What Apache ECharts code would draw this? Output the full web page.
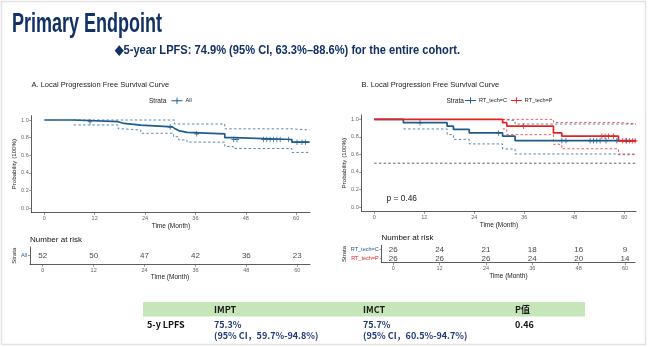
<!DOCTYPE html>
<html><head><meta charset="utf-8">
<script src="https://cdn.jsdelivr.net/npm/echarts@6/dist/echarts.min.js"></script>
<style>html,body{margin:0;padding:0;background:#fff}#c{width:650px;height:347px}</style>
</head><body><div id="c"></div>
<script>
// ---------- data ----------
const timeTicks = [0, 12, 24, 36, 48, 60];
const probTicks = [0, 0.2, 0.4, 0.6, 0.8, 1.0];

// Panel A: all patients
const allTime  = [0, 7, 17.6, 19, 23, 30.5, 31.2, 32, 34, 43, 45, 59, 63.2];
const allSurv  = [1, 0.981, 0.961, 0.942, 0.922, 0.90, 0.88, 0.86, 0.843, 0.80, 0.779, 0.749, 0.749];
const allUpperTime = [7, 31, 43, 59, 63.2];
const allUpper     = [1, 0.955, 0.90, 0.886, 0.886];
const allLowerTime = [7, 17.6, 19, 23, 30.8, 32, 34, 43, 45, 59, 63.2];
const allLower     = [0.944, 0.90, 0.887, 0.85, 0.81, 0.775, 0.75, 0.70, 0.677, 0.633, 0.633];
const allCensorTime = [10.9, 30, 36.3, 45.1, 45.9, 52.2, 53, 53.8, 54.6, 55.4, 56.2, 58.2, 60.2, 61.4, 62.2];
const allCensorSurv = [0.981, 0.922, 0.843, 0.779, 0.779, 0.779, 0.779, 0.779, 0.779, 0.779, 0.779, 0.779, 0.749, 0.749, 0.749];

// Panel B: RT_tech=C
const cTime = [0, 7, 17.5, 19, 22.8, 30.8, 33.8, 62.8];
const cSurv = [1, 0.962, 0.923, 0.885, 0.846, 0.808, 0.757, 0.757];
const cUpperTime = [7, 30.8, 33.8, 62.8];
const cUpper     = [1, 0.985, 0.947, 0.947];
const cLowerTime = [7, 17.5, 19, 22.8, 30.8, 33.8, 62.8];
const cLower     = [0.891, 0.826, 0.772, 0.72, 0.662, 0.605, 0.605];
const cCensorTime = [11, 29.8, 45, 46, 51.8, 52.6, 53.4, 54.2, 55.6, 58.2, 60.5];
const cCensorSurv = [0.962, 0.846, 0.757, 0.757, 0.757, 0.757, 0.757, 0.757, 0.757, 0.757, 0.757];

// Panel B: RT_tech=P
const pTime = [0, 30.8, 31.8, 43, 45, 58.6, 62.8];
const pSurv = [1, 0.962, 0.923, 0.846, 0.808, 0.755, 0.755];
const pUpperTime = [30.8, 43, 58.6, 62.8];
const pUpper     = [1, 0.965, 0.948, 0.948];
const pLowerTime = [30.8, 31.8, 43, 45, 58.6, 62.8];
const pLower     = [0.891, 0.826, 0.715, 0.665, 0.597, 0.597];
const pCensorTime = [35.8, 54.6, 55.4, 56.2, 57.4, 59.6, 60.4, 61.2, 62, 62.6];
const pCensorSurv = [0.923, 0.808, 0.808, 0.808, 0.808, 0.755, 0.755, 0.755, 0.755, 0.755];

const refTime = [0, 62.8];
const refSurv = [0.5, 0.5];

// Number at risk
const riskTimes = [0, 12, 24, 36, 48, 60];
const riskAll = [52, 50, 47, 42, 36, 23];
const riskC = [26, 24, 21, 18, 16, 9];
const riskP = [26, 26, 26, 24, 20, 14];
const riskRowsB = ['RT_tech=C', 'RT_tech=P'];

// Bottom table
const tableHeader = ['', 'IMPT', 'IMCT', 'P值'];
const tableRowLabel = '5-y LPFS';
const tableMain = ['75.3%', '75.7%'];
const tableCI = ['(95% CI，59.7%-94.8%)', '(95% CI，60.5%-94.7%)'];
const tablePValue = '0.46';

// ---------- styling ----------
const BLUE = '#1c5b8c';
const RED = '#e2231f';
const NAVY = '#123166';
const FONT = '"Liberation Sans", Arial, sans-serif';
const CJK = '"Noto Sans CJK SC", "Liberation Sans", sans-serif';
const PLUS = 'path://M4,0 H6 V4 H10 V6 H6 V10 H4 V6 H0 V4 H4 Z';
const LEGICON = 'path://M0,4.4 H14 V5.6 H0 Z M6.4,1 H7.6 V9 H6.4 Z';

const zip = (a, b) => a.map((v, i) => [v, b[i]]);

function measure(text, font) {
  const ctx = document.createElement('canvas').getContext('2d');
  ctx.font = font;
  return ctx.measureText(text).width;
}

function xAxisCfg(grid, min, max, nameGap) {
  return {
    type: 'value', gridIndex: grid, min: min, max: max,
    name: 'Time (Month)', nameLocation: 'middle', nameGap: nameGap,
    nameTextStyle: { fontFamily: FONT, fontSize: 6.5, color: '#222' },
    axisLine: { show: true, onZero: false, lineStyle: { color: '#333', width: 0.8 } },
    axisTick: { show: true, length: 2.5, customValues: timeTicks, lineStyle: { color: '#555', width: 0.6 } },
    axisLabel: { show: true, customValues: timeTicks, fontFamily: FONT, fontSize: 5.5, color: '#666', margin: 3 },
    splitLine: { show: false }
  };
}
function yAxisCfg(grid) {
  return {
    type: 'value', gridIndex: grid, min: -0.05, max: 1.05,
    name: 'Probability (100%)', nameLocation: 'middle', nameGap: 13, nameRotate: 90,
    nameTextStyle: { fontFamily: FONT, fontSize: 6.2, color: '#222' },
    axisLine: { show: true, onZero: false, lineStyle: { color: '#333', width: 0.8 } },
    axisTick: { show: true, length: 2.5, customValues: probTicks, lineStyle: { color: '#555', width: 0.6 } },
    axisLabel: { show: true, customValues: probTicks, fontFamily: FONT, fontSize: 5.5, color: '#666', margin: 3,
      formatter: v => v.toFixed(1) },
    splitLine: { show: false }
  };
}

function stepLine(name, t, s, color, grid, width, dashed, z) {
  return {
    name: name, type: 'line', xAxisIndex: grid, yAxisIndex: grid, step: 'end',
    data: zip(t, s), showSymbol: false, symbol: 'none', silent: true, z: z || 2,
    lineStyle: { color: color, width: width, type: dashed ? [2.5, 2.2] : 'solid', opacity: dashed ? 0.8 : 1 },
    itemStyle: { color: color }
  };
}
function censor(t, s, color, grid) {
  return {
    type: 'scatter', xAxisIndex: grid, yAxisIndex: grid, data: zip(t, s),
    symbol: PLUS, symbolSize: [4.5, 5.5], itemStyle: { color: color }, silent: true, z: 4
  };
}
function riskSeries(row, values, grid) {
  return {
    type: 'scatter', xAxisIndex: grid, yAxisIndex: grid,
    data: riskTimes.map((t, i) => [t, row, values[i]]),
    symbolSize: 1, itemStyle: { color: 'rgba(0,0,0,0)' }, silent: true,
    label: { show: true, position: 'inside', formatter: p => String(p.value[2]),
      fontFamily: FONT, fontSize: 8, color: '#111' }
  };
}

const chart = echarts.init(document.getElementById('c'), null, { renderer: 'canvas' });

const titleFont = 'bold 27px ' + FONT;
const titleText = 'Primary Endpoint';
const subFont = 'bold 13px ' + FONT;
const subText = '◆5-year LPFS: 74.9% (95% CI, 63.3%–88.6%) for the entire cohort.';

const graphics = [
  { type: 'rect', shape: { x: 1.5, y: 1.5, width: 644, height: 343 }, style: { fill: 'none', stroke: '#e2e2e2', lineWidth: 1.5 }, silent: true },
  { type: 'text', x: 12, y: 25, scaleX: 150 / measure(titleText, titleFont),
    style: { text: titleText, font: titleFont, fill: NAVY, verticalAlign: 'middle' } },
  { type: 'text', x: 115, y: 50, scaleX: 345 / measure(subText, subFont),
    style: { text: subText, font: subFont, fill: NAVY, verticalAlign: 'middle' } },
  { type: 'text', x: 31.5, y: 85, style: { text: 'A. Local Progression Free Survival Curve', font: '7.5px ' + FONT, fill: '#222', verticalAlign: 'middle' } },
  { type: 'text', x: 361.5, y: 85, style: { text: 'B. Local Progression Free Survival Curve', font: '7.5px ' + FONT, fill: '#222', verticalAlign: 'middle' } },
  { type: 'text', x: 149, y: 101.7, style: { text: 'Strata', font: '6.5px ' + FONT, fill: '#222', verticalAlign: 'middle' } },
  { type: 'text', x: 446.5, y: 101.3, style: { text: 'Strata', font: '6.5px ' + FONT, fill: '#222', verticalAlign: 'middle' } },
  { type: 'text', x: 386.5, y: 198.3, style: { text: 'p = 0.46', font: '8.4px ' + FONT, fill: '#222', verticalAlign: 'middle' } },
  { type: 'text', x: 30, y: 240, style: { text: 'Number at risk', font: '8px ' + FONT, fill: '#111', verticalAlign: 'middle' } },
  { type: 'text', x: 381.5, y: 237.3, style: { text: 'Number at risk', font: '8px ' + FONT, fill: '#111', verticalAlign: 'middle' } },
  // bottom table
  { type: 'rect', shape: { x: 143, y: 302, width: 442, height: 14.5 }, style: { fill: '#c6e5b9' }, silent: true },
  { type: 'text', x: 214, y: 309.3, style: { text: tableHeader[1], font: 'bold 9px ' + CJK, fill: '#1a1a1a', verticalAlign: 'middle' } },
  { type: 'text', x: 363, y: 309.3, style: { text: tableHeader[2], font: 'bold 9px ' + CJK, fill: '#1a1a1a', verticalAlign: 'middle' } },
  { type: 'text', x: 515, y: 309.3, style: { text: tableHeader[3], font: 'bold 9px ' + CJK, fill: '#1a1a1a', verticalAlign: 'middle' } },
  { type: 'text', x: 147, y: 324.3, style: { text: tableRowLabel, font: 'bold 9px ' + CJK, fill: '#111', verticalAlign: 'middle' } },
  { type: 'text', x: 214, y: 324.3, style: { text: tableMain[0], font: 'bold 9px ' + CJK, fill: '#1f3a78', verticalAlign: 'middle' } },
  { type: 'text', x: 214, y: 335.7, style: { text: tableCI[0], font: 'bold 9px ' + CJK, fill: '#1f3a78', verticalAlign: 'middle' } },
  { type: 'text', x: 363, y: 324.3, style: { text: tableMain[1], font: 'bold 9px ' + CJK, fill: '#1f3a78', verticalAlign: 'middle' } },
  { type: 'text', x: 363, y: 335.7, style: { text: tableCI[1], font: 'bold 9px ' + CJK, fill: '#1f3a78', verticalAlign: 'middle' } },
  { type: 'text', x: 515, y: 324.3, style: { text: tablePValue, font: 'bold 9px ' + CJK, fill: '#111', verticalAlign: 'middle' } }
];

const option = {
  backgroundColor: '#ffffff',
  animation: false,
  textStyle: { fontFamily: FONT },
  grid: [
    { left: 31.7, top: 115.6, width: 278.3, height: 97.1 },
    { left: 361.7, top: 115, width: 274.3, height: 96.4 },
    { left: 30, top: 247, width: 280, height: 17.3 },
    { left: 381.7, top: 245.3, width: 253.3, height: 17.4 }
  ],
  xAxis: [
    xAxisCfg(0, -3, 63.3, 9),
    xAxisCfg(1, -3, 62.8, 10.5),
    xAxisCfg(2, -3, 63, 9.5),
    xAxisCfg(3, -3, 62.6, 9.5)
  ],
  yAxis: [
    yAxisCfg(0),
    yAxisCfg(1),
    {
      type: 'category', gridIndex: 2, data: ['All'],
      name: 'Strata', nameLocation: 'middle', nameGap: 10, nameRotate: 90,
      nameTextStyle: { fontFamily: FONT, fontSize: 6, color: '#222' },
      axisLine: { show: true, onZero: false, lineStyle: { color: '#333', width: 0.8 } },
      axisTick: { show: true, alignWithLabel: true, length: 2, lineStyle: { color: '#555', width: 0.6 } },
      axisLabel: { fontFamily: FONT, fontSize: 5.5, color: BLUE, margin: 3 },
      splitLine: { show: false }
    },
    {
      type: 'category', gridIndex: 3, data: riskRowsB, inverse: true,
      name: 'Strata', nameLocation: 'middle', nameGap: 31, nameRotate: 90,
      nameTextStyle: { fontFamily: FONT, fontSize: 6, color: '#222' },
      axisLine: { show: true, onZero: false, lineStyle: { color: '#333', width: 0.8 } },
      axisTick: { show: true, alignWithLabel: true, length: 2, lineStyle: { color: '#555', width: 0.6 } },
      axisLabel: { fontFamily: FONT, fontSize: 5.5, margin: 3,
        color: (v) => v === 'RT_tech=C' ? BLUE : RED },
      splitLine: { show: false }
    }
  ],
  legend: [
    { left: 171.5, top: 97.7, padding: 0, itemWidth: 11, itemHeight: 7, itemGap: 6,
      data: [{ name: 'All', icon: LEGICON }],
      textStyle: { fontFamily: FONT, fontSize: 5.5, color: '#222', padding: [0, 0, 0, -2] }, selectedMode: false },
    { left: 465, top: 97.3, padding: 0, itemWidth: 11, itemHeight: 7, itemGap: 4,
      data: [{ name: 'RT_tech=C', icon: LEGICON }, { name: 'RT_tech=P', icon: LEGICON }],
      textStyle: { fontFamily: FONT, fontSize: 5.5, color: '#222', padding: [0, 0, 0, -2] }, selectedMode: false }
  ],
  series: [
    // Panel A
    stepLine('All upper', allUpperTime, allUpper, BLUE, 0, 0.9, true),
    stepLine('All lower', allLowerTime, allLower, BLUE, 0, 0.9, true),
    stepLine('All', allTime, allSurv, BLUE, 0, 1.7, false, 3),
    censor(allCensorTime, allCensorSurv, BLUE, 0),
    // Panel B
    stepLine('ref', refTime, refSurv, '#222', 1, 0.9, true),
    stepLine('C upper', cUpperTime, cUpper, BLUE, 1, 0.9, true),
    stepLine('C lower', cLowerTime, cLower, BLUE, 1, 0.9, true),
    stepLine('P upper', pUpperTime, pUpper, RED, 1, 0.9, true),
    stepLine('P lower', pLowerTime, pLower, RED, 1, 0.9, true),
    stepLine('RT_tech=C', cTime, cSurv, BLUE, 1, 1.7, false, 3),
    stepLine('RT_tech=P', pTime, pSurv, RED, 1, 1.7, false, 3),
    censor(cCensorTime, cCensorSurv, BLUE, 1),
    censor(pCensorTime, pCensorSurv, RED, 1),
    // risk tables
    riskSeries(0, riskAll, 2),
    riskSeries(0, riskC, 3),
    riskSeries(1, riskP, 3)
  ],
  graphic: graphics
};
chart.setOption(option);
</script></body></html>
